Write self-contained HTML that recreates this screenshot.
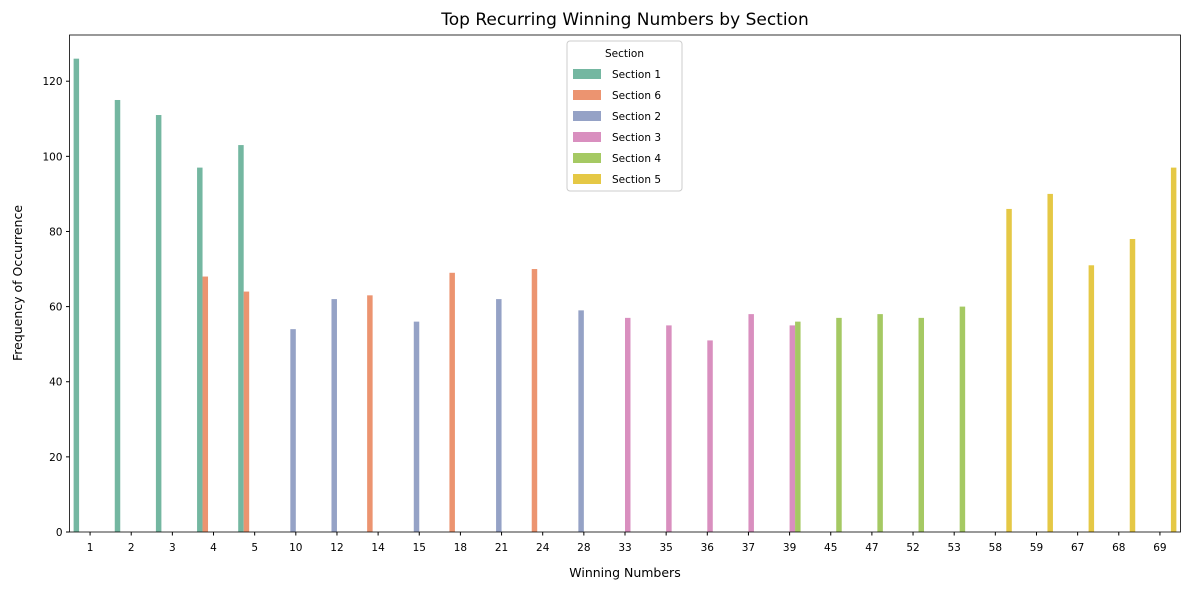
<!DOCTYPE html>
<html><head><meta charset="utf-8"><style>
body{margin:0;background:#fff;font-family:"Liberation Sans","DejaVu Sans",sans-serif}
</style></head><body>
<svg id="chart" width="1189" height="590" xmlns="http://www.w3.org/2000/svg" style="font-family:'DejaVu Sans','Liberation Sans',sans-serif"></svg>
<script>
const categories=["1","2","3","4","5","10","12","14","15","18","21","24","28","33","35","36","37","39","45","47","52","53","58","59","67","68","69"];
const sections=["Section 1","Section 6","Section 2","Section 3","Section 4","Section 5"];
const colors=["#74b7a1","#ec9470","#95a2c6","#d98fbf","#a5c963","#e5c845"];
const s1=[126,115,111,97,103,null,null,null,null,null,null,null,null,null,null,null,null,null,null,null,null,null,null,null,null,null,null];
const s6=[null,null,null,68,64,null,null,63,null,69,null,70,null,null,null,null,null,null,null,null,null,null,null,null,null,null,null];
const s2=[null,null,null,null,null,54,62,null,56,null,62,null,59,null,null,null,null,null,null,null,null,null,null,null,null,null,null];
const s3=[null,null,null,null,null,null,null,null,null,null,null,null,null,57,55,51,58,55,null,null,null,null,null,null,null,null,null];
const s4=[null,null,null,null,null,null,null,null,null,null,null,null,null,null,null,null,null,56,57,58,57,60,null,null,null,null,null];
const s5=[null,null,null,null,null,null,null,null,null,null,null,null,null,null,null,null,null,null,null,null,null,null,86,90,71,78,97];
const series=[s1,s6,s2,s3,s4,s5];
const yTicks=[0,20,40,60,80,100,120];
const L=69.5,R=1180.5,T=35,B=532,yMax=132.3;
const xs=i=>L+(i+0.5)*(R-L)/categories.length;
const ys=v=>B-v*(B-T)/yMax;
const step=(R-L)/categories.length;
const svg=document.getElementById('chart');
const NS='http://www.w3.org/2000/svg';
function mk(t,a,txt){const e=document.createElementNS(NS,t);for(const k in a)e.setAttribute(k,a[k]);if(txt!=null)e.textContent=txt;svg.appendChild(e);return e;}
series.forEach((s,k)=>{s.forEach((v,i)=>{if(v==null)return;
 const x=xs(i)+(-0.4+k*0.8/6)*step;
 const r=mk('rect',{x:x,y:ys(v),width:0.8/6*step,height:ys(0)-ys(v),fill:colors[k]});
 
 
});});
const ax=mk('rect',{x:L,y:T,width:R-L,height:B-T,fill:'none',stroke:'#000','stroke-width':0.8});

yTicks.forEach(v=>{mk('line',{x1:L-3.5,x2:L,y1:ys(v),y2:ys(v),stroke:'#000'});
 const t=mk('text',{x:L-7,y:ys(v)+4,'text-anchor':'end','font-size':10.5},v);
 });
categories.forEach((c,i)=>{mk('line',{x1:xs(i),x2:xs(i),y1:B,y2:B+3.5,stroke:'#000'});
 const t=mk('text',{x:xs(i),y:B+19,'text-anchor':'middle','font-size':10.5},c);
 });
let t=mk('text',{x:625,y:25,'text-anchor':'middle','font-size':17},'Top Recurring Winning Numbers by Section');

t=mk('text',{x:625,y:577,'text-anchor':'middle','font-size':12.5},'Winning Numbers');

t=mk('text',{x:22,y:283,'text-anchor':'middle','font-size':12.5,transform:'rotate(-90 22 283)'},'Frequency of Occurrence');

const lg=mk('rect',{x:567,y:41,width:115,height:150,rx:3,fill:'#fff','fill-opacity':0.8,stroke:'#ccc'});

t=mk('text',{x:624.5,y:57,'text-anchor':'middle','font-size':10.5},'Section');

sections.forEach((s,k)=>{const y=74+k*21;
 mk('rect',{x:573,y:y-5,width:28,height:10,fill:colors[k]});
 const e=mk('text',{x:612,y:y+4,'font-size':10.5},s);
 });
</script>
</body></html>
